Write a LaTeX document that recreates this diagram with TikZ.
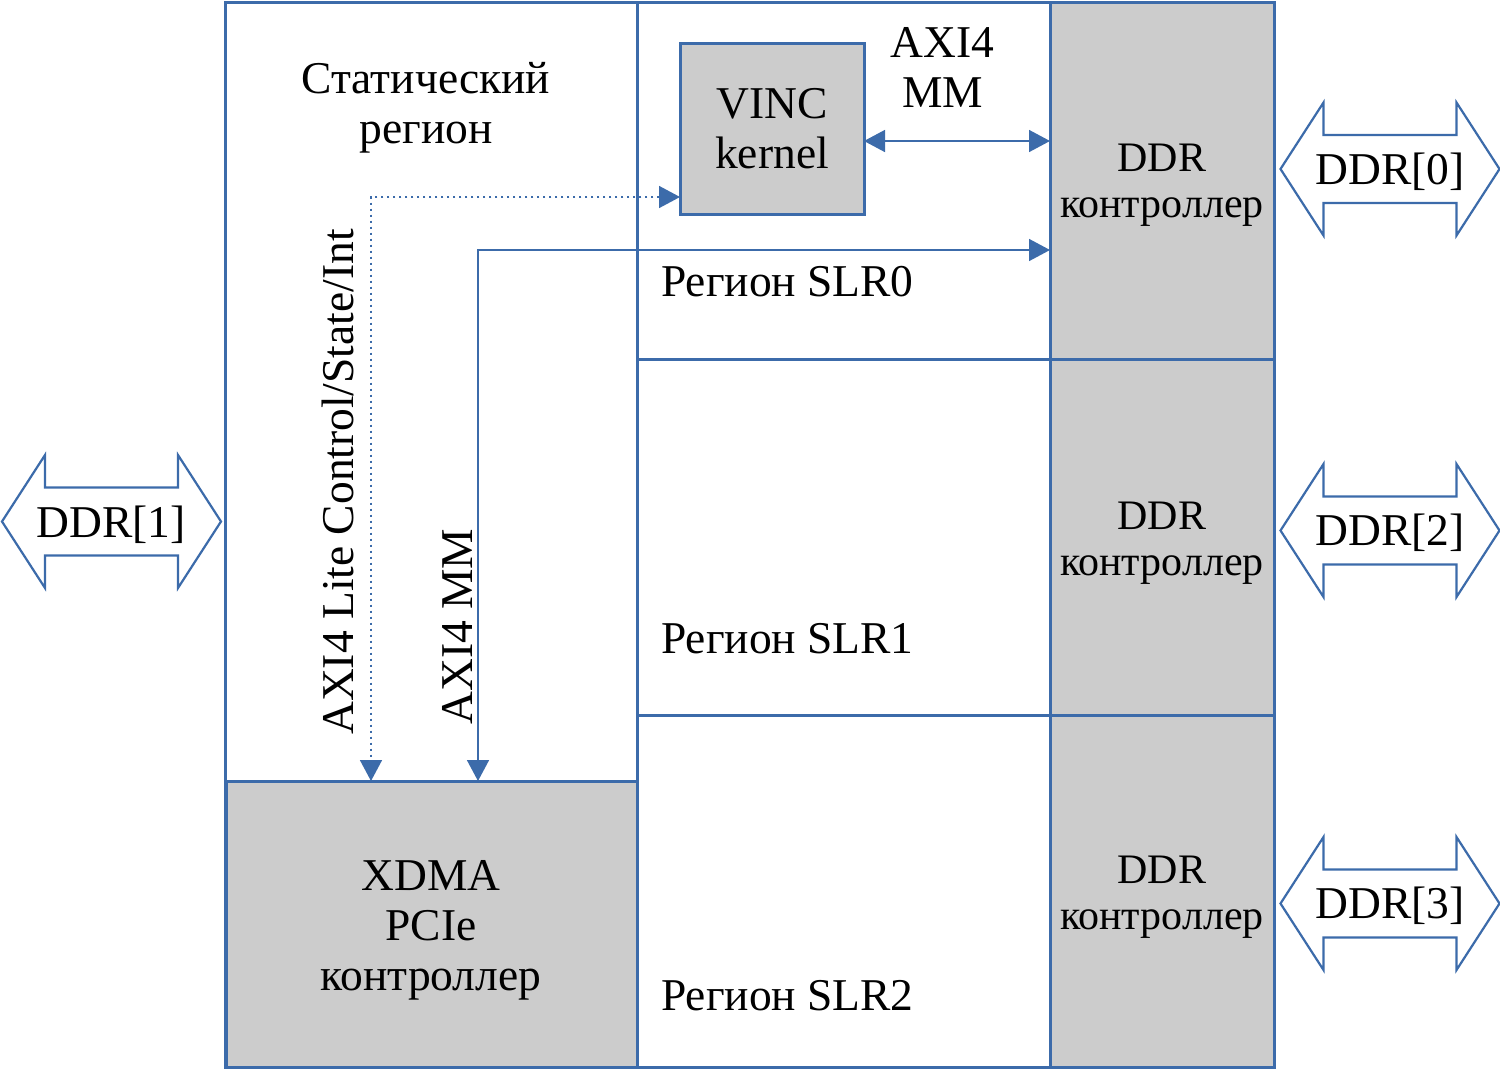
\documentclass[tikz,border=0pt]{standalone}
\usepackage{fontspec}
\setmainfont{Liberation Serif}
\usetikzlibrary{arrows.meta}
\definecolor{bl}{HTML}{3C6BAA}
\definecolor{gr}{HTML}{CCCCCC}
\tikzset{
  region/.style={draw=bl, line width=3pt, fill=white, inner sep=0pt, outer sep=0pt},
  greybox/.style={draw=bl, line width=3pt, fill=gr, inner sep=0pt, outer sep=0pt},
  kernelbox/.style={draw=bl, line width=3pt, fill=gr, inner sep=0pt, outer sep=0pt},
  bigtxt/.style={font=\fontsize{45.5}{50}\selectfont, inner sep=0pt, align=center},
  ctltxt/.style={font=\fontsize{42}{46}\selectfont, inner sep=0pt, align=center},
  >={Triangle[length=21pt,width=22pt]},
  link/.style={bl, line width=1.5pt},
  ctrl/.style={bl, line width=1.6pt, dash pattern=on 2pt off 4pt},
  ddrarrow/.pic={\draw[bl, line width=2.2pt, fill=white]
     (-109.5,0) -- (-66.5,-66.5) -- (-66.5,-34) -- (66.5,-34) -- (66.5,-66.5)
     -- (109.5,0) -- (66.5,66.5) -- (66.5,34) -- (-66.5,34) -- (-66.5,66.5) -- cycle;}
}
\begin{document}
\begin{tikzpicture}[x=1pt, y=-1pt]
\useasboundingbox (0,0) rectangle (1500,1069);
% regions
\node[region, minimum width=412pt, minimum height=1065pt] (static) at (431,534.5) {};
\node[region, minimum width=413pt, minimum height=357pt] (slr0) at (843.5,180.5) {};
\node[region, minimum width=413pt, minimum height=356pt] (slr1) at (843.5,537) {};
\node[region, minimum width=413pt, minimum height=352pt] (slr2) at (843.5,891) {};
\node[greybox, minimum width=224pt, minimum height=357pt] (ddrA) at (1162,180.5) {};
\node[greybox, minimum width=224pt, minimum height=356pt] (ddrB) at (1162,537) {};
\node[greybox, minimum width=224pt, minimum height=352pt] (ddrC) at (1162,891) {};
\node[greybox, minimum width=411pt, minimum height=286pt] (xdma) at (431.5,924) {};
\node[kernelbox, minimum width=184pt, minimum height=171pt] (vinc) at (772,128.5) {};

% texts (anchor=base is the baseline of the last line)
\node[bigtxt, anchor=base] (tstatic) at (426,143) {Статический\\регион};
\node[bigtxt, anchor=base] (tvinc) at (772,168) {VINC\\kernel};
\node[bigtxt, anchor=base] (taxi) at (942.5,107) {AXI4\\MM};
\node[ctltxt, anchor=base] (tddrA) at (1162,217.5) {DDR\\контроллер};
\node[ctltxt, anchor=base] (tddrB) at (1162,575) {DDR\\контроллер};
\node[ctltxt, anchor=base] (tddrC) at (1162,929) {DDR\\контроллер};
\node[bigtxt, anchor=base west] (tslr0) at (661,296) {Регион SLR0};
\node[bigtxt, anchor=base west] (tslr1) at (661,653) {Регион SLR1};
\node[bigtxt, anchor=base west] (tslr2) at (661,1010) {Регион SLR2};
\node[bigtxt, anchor=base] (txdma) at (431,990) {XDMA\\PCIe\\контроллер};
\node[bigtxt, anchor=base, rotate=90] (tlite) at (353,482) {AXI4 Lite Control/State/Int};
\node[bigtxt, anchor=base, rotate=90] (tmm) at (472,626.5) {AXI4 MM};

% connectors
\draw[link, <->] ([yshift=-12.5pt]vinc.east) -- ([yshift=39.5pt]ddrA.west);
\draw[ctrl, <->] ([yshift=-68.5pt]vinc.west) -| ([xshift=-60.5pt]xdma.north);
\draw[link, <->] ([yshift=-69.5pt]ddrA.west) -| ([xshift=46.5pt]xdma.north);

% external DDR ports
\pic at (111.5,521.5) {ddrarrow};
\pic at (1390,169) {ddrarrow};
\pic at (1390,530.5) {ddrarrow};
\pic at (1390,903.5) {ddrarrow};
\node[bigtxt, anchor=base] (p1) at (111,537) {DDR[1]};
\node[bigtxt, anchor=base] (p0) at (1390,184) {DDR[0]};
\node[bigtxt, anchor=base] (p2) at (1390,545.5) {DDR[2]};
\node[bigtxt, anchor=base] (p3) at (1390,918.5) {DDR[3]};
\end{tikzpicture}
\end{document}
